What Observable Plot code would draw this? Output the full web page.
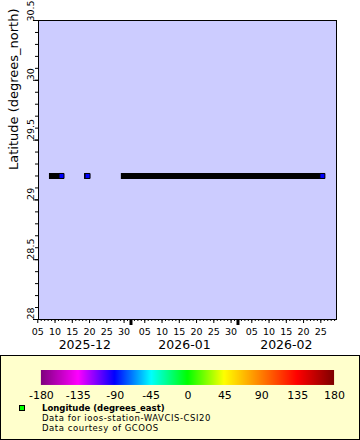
<!DOCTYPE html>
<html><head><meta charset="utf-8">
<script src="https://cdn.jsdelivr.net/npm/d3@7"></script>
<script src="https://cdn.jsdelivr.net/npm/@observablehq/plot@0.6"></script>
<style>
body{margin:0;background:#fff;font-family:"DejaVu Sans",sans-serif;}
#wrap{position:relative;width:360px;height:440px;overflow:hidden;background:#fff;}
#chart{position:absolute;left:0;top:0;}
#legend{position:absolute;left:0;top:355px;width:360px;height:85px;box-sizing:border-box;border:1px solid #000;background:#ffffcc;}
#ramp{position:absolute;left:-1px;top:14px;}
#ramp svg .tick line{stroke:none;}
#swatch{position:absolute;left:18px;top:49px;width:4px;height:4px;border:1px solid #000;background:#00ff00;}
.lt{position:absolute;left:41px;font-size:8.5px;line-height:10px;height:10px;white-space:nowrap;color:#000;letter-spacing:0.55px;}
</style></head>
<body><div id="wrap"><div id="chart"></div>
<div id="legend"><div id="ramp"></div><div id="swatch"></div>
<div class="lt" id="l1" style="top:47px;font-weight:bold;letter-spacing:0px;"></div>
<div class="lt" id="l2" style="top:57px;"></div>
<div class="lt" id="l3" style="top:67px;"></div>
</div></div>
<script>
// ---- data ----
const segStart = ["2025-12-09T06:00Z", "2025-12-19T10:00Z", "2025-12-30T02:00Z"];
const segEnd   = ["2025-12-11T21:00Z", "2025-12-19T10:00Z", "2026-02-25T11:00Z"];
const latitude  = [29.2, 29.2, 29.2];
const longitude = [-90.0, -90.0, -90.0];
const xDomain = ["2025-12-05T05:00Z", "2026-03-01T13:00Z"];
const yDomain = [28, 30.5];
const yTicks = [28, 28.5, 29, 29.5, 30, 30.5];
const xTicks = ["2025-12-05","2025-12-10","2025-12-15","2025-12-20","2025-12-25","2025-12-30",
                "2026-01-05","2026-01-10","2026-01-15","2026-01-20","2026-01-25","2026-01-30",
                "2026-02-05","2026-02-10","2026-02-15","2026-02-20","2026-02-25"];
const months = ["2025-12", "2026-01", "2026-02"];
const lonStops = [-180, -135, -90, -45, 0, 45, 90, 135, 180];
const lonColors = ["#800080","#ff00ff","#0000ff","#00ffff","#00ff00","#ffff00","#ff8000","#ff0000","#800000"];
const yTitle = "Latitude (degrees_north)";
const legendTitle = "Longitude (degrees_east)";
const legendLines = ["Data for ioos-station-WAVCIS-CSI20", "Data courtesy of GCOOS"];

// ---- build ----
const d0 = new Date(xDomain[0]), d1 = new Date(xDomain[1]);
const segments = segStart.map((s, i) => ({start: new Date(s), end: new Date(segEnd[i]), lat: latitude[i], lon: longitude[i]}));
const monthRows = months.map(m => {
  const s = new Date(m + "-01T00:00Z");
  const e = d3.utcMonth.offset(s, 1);
  const a = s < d0 ? d0 : s, b = e > d1 ? d1 : e;
  return {label: m, start: s, mid: new Date((+a + +b) / 2)};
});
const monthTicks = monthRows.map(d => d.start).filter(d => d >= d0 && d <= d1);
const colorScale = {type: "linear", domain: lonStops, range: lonColors};

const chart = Plot.plot({
  width: 360, height: 352,
  marginLeft: 38, marginRight: 24, marginTop: 20, marginBottom: 33,
  style: {fontFamily: "DejaVu Sans", fontSize: "10px", background: "#fff", color: "#000"},
  x: {type: "utc", domain: [d0, d1]},
  y: {domain: yDomain},
  color: colorScale,
  marks: [
    Plot.frame({fill: "#ccccff"}),
    Plot.ruleY(segments, {x1: "start", x2: "end", y: "lat", stroke: "black", strokeWidth: 6, strokeLinecap: "square"}),
    Plot.dot(segments, {x: "end", y: "lat", symbol: "square", r: 2.82, fill: "lon", stroke: "black", strokeWidth: 1}),
    Plot.frame({stroke: "black"}),
    Plot.axisY({interval: 0.1, tickSize: 3, text: null, label: null}),
    Plot.axisY(yTicks, {tickSize: 5, text: null, label: null}),
    Plot.text(yTicks.slice(0, -1), {y: d => d, text: d => String(d), frameAnchor: "left", dx: -8, rotate: -90, fontSize: 9.5}),
    Plot.text(yTicks.slice(-1), {y: d => d, text: d => String(d), frameAnchor: "left", dx: -8, dy: 1, rotate: -90, fontSize: 9.5, textAnchor: "start"}),
    Plot.text([yTitle], {text: d => d, frameAnchor: "left", dx: -25, rotate: -90, fontSize: 13}),
    Plot.axisX({interval: "day", tickSize: 2, text: null, label: null}),
    Plot.axisX(xTicks.map(d => new Date(d + "T00:00Z")), {tickSize: 4, tickPadding: 5, tickFormat: d3.utcFormat("%d"), fontSize: 9.5, label: null}),
    Plot.axisX(monthTicks, {tickSize: 6, strokeWidth: 3, text: null, label: null}),
    Plot.text(monthRows, {x: "mid", text: "label", frameAnchor: "bottom", dy: 29.5, fontSize: 12.5})
  ]
});
document.getElementById("chart").append(chart);

const ramp = Plot.legend({
  color: colorScale,
  width: 360, height: 33, marginLeft: 41, marginRight: 25, marginTop: 0, marginBottom: 18,
  tickSize: 3, ticks: lonStops, tickFormat: d => String(d), label: null,
  style: {fontFamily: "DejaVu Sans", fontSize: "11px", background: "transparent", color: "#000"}
});
document.getElementById("ramp").append(ramp);
document.getElementById("l1").textContent = legendTitle;
document.getElementById("l2").textContent = legendLines[0];
document.getElementById("l3").textContent = legendLines[1];
</script></body></html>
